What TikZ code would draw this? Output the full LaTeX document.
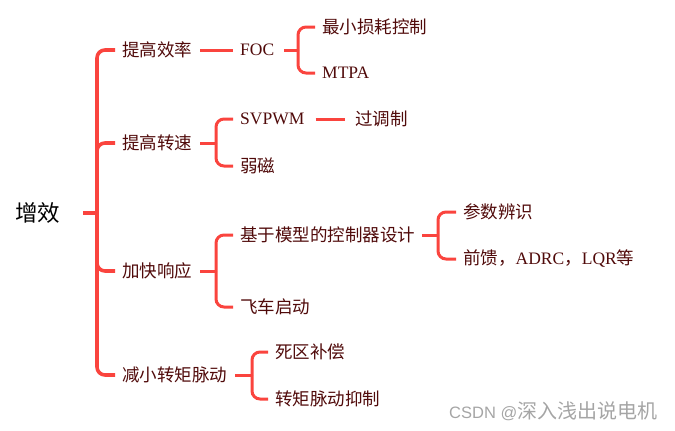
\documentclass[tikz,border=0pt]{standalone}
\usepackage{fontspec}
\setmainfont{Liberation Serif}
\newfontfamily\cjk{Noto Sans CJK SC}
\newfontfamily\wmsans{Liberation Sans}
\definecolor{lnred}{RGB}{250,68,62}
\definecolor{txt}{RGB}{80,10,10}
\definecolor{wm}{RGB}{165,165,165}
\begin{document}
\begin{tikzpicture}[x=1pt,y=-1pt,
  lbl/.style={anchor=west,inner sep=0pt,text=txt,font=\fontsize{17.5}{20}\selectfont},
  trunk/.style={draw=lnred,line width=3.6pt,rounded corners=8pt},
  br/.style={draw=lnred,line width=3pt,rounded corners=8pt},
]
\useasboundingbox (0,0) rectangle (675,431);
% nodes
\node[anchor=west,inner sep=0pt,text=black,font=\fontsize{22.5}{26}\selectfont\cjk] (root) at (15,213) {增效};
\node[lbl] (a) at (122,50) {\cjk 提高效率};
\node[lbl] (b) at (122,143) {\cjk 提高转速};
\node[lbl] (c) at (122,271) {\cjk 加快响应};
\node[lbl] (d) at (122,375) {\cjk 减小转矩脉动};
\node[lbl] (foc) at (240,50) {FOC};
\node[lbl] (m1) at (322,27) {\cjk 最小损耗控制};
\node[lbl] (mtpa) at (322,73) {MTPA};
\node[lbl] (svpwm) at (240,119) {SVPWM};
\node[lbl] (gtz) at (355,119) {\cjk 过调制};
\node[lbl] (rc) at (240,166) {\cjk 弱磁};
\node[lbl] (mb) at (240,235) {\cjk 基于模型的控制器设计};
\node[lbl] (fc) at (240,307) {\cjk 飞车启动};
\node[lbl] (cs) at (463,212) {\cjk 参数辨识};
\node[lbl] (qk) at (463,259) {{\cjk 前馈，}ADRC{\cjk ，}LQR{\cjk 等}};
\node[lbl] (sq) at (275,352) {\cjk 死区补偿};
\node[lbl] (zj) at (275,399) {\cjk 转矩脉动抑制};
\node[anchor=west,inner sep=0pt,text=wm] (wmk) at (449,411) {{\wmsans\fontsize{16.5}{18}\selectfont CSDN @}{\cjk\fontsize{20}{20}\selectfont 深入浅出说电机}};
% junctions
\coordinate (rj) at (97,213);
\coordinate (fj) at (298,50);
\coordinate (bj) at (216,143);
\coordinate (cj) at (216,271);
\coordinate (mj) at (438,235);
\coordinate (dj) at (252,375);
% root trunk
\draw[trunk] ([xshift=23pt]root.east) -- (rj);
\draw[trunk] (rj) |- ([xshift=-7pt]a.west);
\draw[trunk] (rj) |- ([xshift=-7pt]b.west);
\draw[trunk] (rj) |- ([xshift=-7pt]c.west);
\draw[trunk] (rj) |- ([xshift=-7pt]d.west);
% efficiency
\draw[br] ([xshift=8pt]a.east) -- ([xshift=-7pt]foc.west);
\draw[br] ([xshift=10pt]foc.east) -- (fj);
\draw[br] (fj) |- ([xshift=-7pt]m1.west);
\draw[br] (fj) |- ([xshift=-7pt]mtpa.west);
% speed
\draw[br] ([xshift=8pt]b.east) -- (bj);
\draw[br] (bj) |- ([xshift=-7pt]svpwm.west);
\draw[br] (bj) |- ([xshift=-7pt]rc.west);
\draw[br] ([xshift=11pt]svpwm.east) -- ([xshift=-10pt]gtz.west);
% response
\draw[br] ([xshift=8pt]c.east) -- (cj);
\draw[br] (cj) |- ([xshift=-7pt]mb.west);
\draw[br] (cj) |- ([xshift=-7pt]fc.west);
\draw[br] ([xshift=7pt]mb.east) -- (mj);
\draw[br] (mj) |- ([xshift=-7pt]cs.west);
\draw[br] (mj) |- ([xshift=-7pt]qk.west);
% ripple
\draw[br] ([xshift=8pt]d.east) -- (dj);
\draw[br] (dj) |- ([xshift=-7pt]sq.west);
\draw[br] (dj) |- ([xshift=-7pt]zj.west);
\end{tikzpicture}
\end{document}
